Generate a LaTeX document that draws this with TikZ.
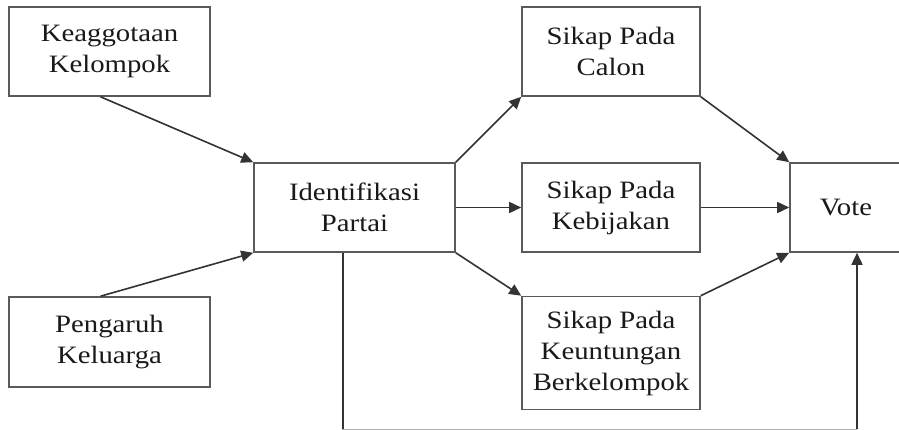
\documentclass[tikz,border=0pt]{standalone}
\usepackage{fontspec}
\setmainfont{Liberation Serif}[FakeStretch=1.15]
\usetikzlibrary{arrows.meta,calc}
\definecolor{boxline}{HTML}{5A5A5A}
\definecolor{arrline}{HTML}{333333}
\begin{document}
\begin{tikzpicture}[x=1pt,y=-1pt,
  box/.style={draw=boxline,line width=1.6pt,fill=white,align=center,inner sep=0pt,
    font=\fontsize{25}{31}\selectfont,text=black!90},
  conn/.style={draw=arrline,line width=1.6pt},
  arr/.style={conn,-{Triangle[length=12pt,width=11pt]}}]
\useasboundingbox[fill=white] (0,0) rectangle (899,430);
\node[box,minimum width=201pt,minimum height=89pt] (kel) at (109.5,51.5) {Keaggotaan\\Kelompok};
\node[box,minimum width=201pt,minimum height=90pt] (pen) at (109.5,342) {Pengaruh\\Keluarga};
\node[box,minimum width=201pt,minimum height=89pt] (iden) at (354.5,207.5) {Identifikasi\\Partai};
\node[box,minimum width=178pt,minimum height=89pt] (cal) at (611,51.5) {Sikap Pada\\Calon};
\node[box,minimum width=178pt,minimum height=89pt] (keb) at (611,207.5) {Sikap Pada\\Kebijakan};
\node[box,minimum width=178pt,minimum height=113pt] (keu) at (611,353) {Sikap Pada\\Keuntungan\\Berkelompok};
\node[box,minimum width=112pt,minimum height=89pt] (vote) at (846,207.5) {Vote};
\coordinate (b1) at (343,429.4);
\coordinate (b2) at (857,429.4);
\draw[arr] ($(kel.south)+(-9,0)$) -- (iden.north west);
\draw[arr] ($(pen.north)+(-9,0)$) -- (iden.south west);
\draw[arr] (iden.north east) -- (cal.south west);
\draw[arr] (iden.east) -- (keb.west);
\draw[arr] (iden.south east) -- (keu.north west);
\draw[arr] (cal.south east) -- (vote.north west);
\draw[arr] (keb.east) -- (vote.west);
\draw[arr] (keu.north east) -- (vote.south west);
\draw[conn,draw=boxline!50] (iden.south -| b1) -- (b1) -- (b2);
\draw[conn] (iden.south -| b1) -- (b1);
\draw[arr] (b2) -- (vote.south -| b2);
\end{tikzpicture}
\end{document}
